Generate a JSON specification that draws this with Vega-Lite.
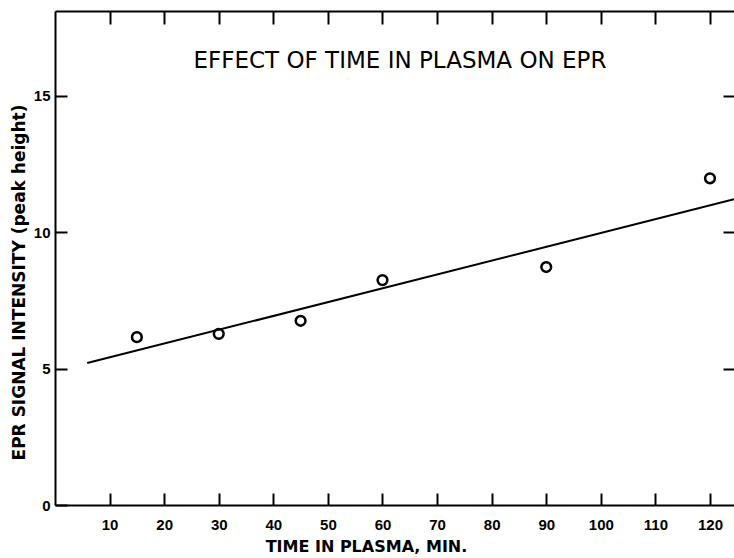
{
  "$schema": "https://vega.github.io/schema/vega-lite/v6.json",
  "width": 679,
  "height": 494,
  "autosize": {"type": "none"},
  "padding": {"left": 55, "top": 11, "right": 0, "bottom": 53},
  "background": "white",
  "config": {
    "view": {"stroke": null},
    "axis": {
      "grid": false,
      "domainColor": "black",
      "domainWidth": 2,
      "tickColor": "black",
      "tickWidth": 2,
      "labelColor": "black",
      "labelFont": "Liberation Sans",
      "labelFontWeight": "bold",
      "labelFontSize": 15,
      "titleColor": "black",
      "titleFont": "DejaVu Sans",
      "titleFontWeight": "bold"
    }
  },
  "datasets": {
    "points": [
      {"time": 15, "epr": 6.15},
      {"time": 30, "epr": 6.27},
      {"time": 45, "epr": 6.75},
      {"time": 60, "epr": 8.24},
      {"time": 90, "epr": 8.72},
      {"time": 120, "epr": 11.97}
    ],
    "fit": [
      {"time": 5.9, "epr": 5.2},
      {"time": 124.4, "epr": 11.2}
    ],
    "label": [
      {"time": 63.2, "epr": 16.26, "text": "EFFECT OF TIME IN PLASMA ON EPR"}
    ]
  },
  "layer": [
    {
      "data": {"name": "points"},
      "mark": {"type": "point", "filled": false, "stroke": "black", "opacity": 1, "strokeOpacity": 1, "strokeWidth": 2.5, "size": 95, "clip": true},
      "encoding": {
        "x": {
          "field": "time", "type": "quantitative",
          "scale": {"domain": [0, 124.4], "nice": false},
          "axis": {
            "orient": "bottom",
            "values": [10, 20, 30, 40, 50, 60, 70, 80, 90, 100, 110, 120],
            "tickSize": -12,
            "labelPadding": 24,
            "title": "TIME IN PLASMA, MIN.",
            "titleFontSize": 16,
            "titleX": 311,
            "titlePadding": 6
          }
        },
        "y": {
          "field": "epr", "type": "quantitative",
          "scale": {"domain": [0, 18.1], "nice": false},
          "axis": {
            "orient": "left",
            "values": [0, 5, 10, 15],
            "tickSize": -12,
            "labelPadding": 17,
            "title": "EPR SIGNAL INTENSITY (peak height)",
            "titleFontSize": 17,
            "titleY": 271,
            "titlePadding": 5
          }
        }
      }
    },
    {
      "data": {"name": "fit"},
      "mark": {"type": "line", "color": "black", "strokeWidth": 2, "clip": true},
      "encoding": {
        "x": {
          "field": "time", "type": "quantitative",
          "axis": {
            "orient": "top",
            "values": [10, 20, 30, 40, 50, 60, 70, 80, 90, 100, 110, 120],
            "tickSize": -13,
            "labels": false,
            "title": null
          }
        },
        "y": {
          "field": "epr", "type": "quantitative",
          "axis": {
            "orient": "right",
            "values": [5, 10, 15],
            "tickSize": -11,
            "domain": false,
            "labels": false,
            "title": null
          }
        }
      }
    },
    {
      "data": {"name": "label"},
      "mark": {"type": "text", "font": "DejaVu Sans", "fontSize": 23, "color": "black", "align": "center", "baseline": "middle"},
      "encoding": {
        "x": {"field": "time", "type": "quantitative", "axis": null},
        "y": {"field": "epr", "type": "quantitative", "axis": null},
        "text": {"field": "text"}
      }
    }
  ],
  "resolve": {"axis": {"x": "independent", "y": "independent"}}
}
